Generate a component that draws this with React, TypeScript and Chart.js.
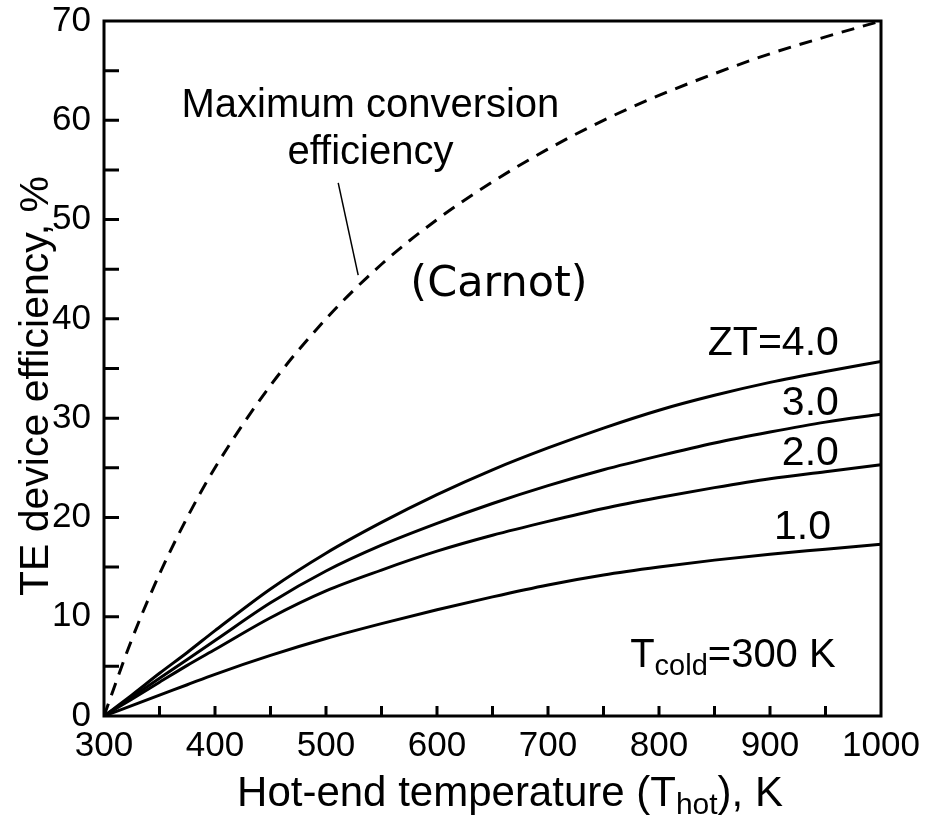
import { useEffect, useRef } from 'react';
import { Chart, registerables } from 'chart.js';

Chart.register(...registerables);

// Hot-end temperature samples (K)
const hotTemps = [300, 325, 350, 375, 400, 450, 500, 550, 600, 650, 700, 750, 800, 850, 900, 950, 1000];

// Carnot limit, %
const carnotEff = [0, 7.7, 14.3, 20.0, 25.0, 33.3, 40.0, 45.5, 50.0, 53.8, 57.1, 60.0, 62.5, 64.7, 66.7, 68.4, 70.0];

// Device efficiency for each figure of merit, %
const zt4Eff = [0, 2.1, 4.3, 6.4, 8.6, 12.8, 16.4, 19.5, 22.3, 24.8, 27.0, 29.0, 30.8, 32.3, 33.6, 34.7, 35.7];
const zt3Eff = [0, 1.9, 3.8, 5.7, 7.6, 11.4, 14.6, 17.2, 19.4, 21.4, 23.2, 24.8, 26.2, 27.5, 28.6, 29.6, 30.4];
const zt2Eff = [0, 1.7, 3.4, 5.1, 6.7, 9.9, 12.6, 14.7, 16.6, 18.2, 19.6, 20.9, 22.0, 23.0, 23.9, 24.6, 25.3];
const zt1Eff = [0, 1.05, 2.1, 3.15, 4.2, 6.1, 7.8, 9.3, 10.7, 12.0, 13.2, 14.2, 15.0, 15.7, 16.3, 16.8, 17.3];

const xTickValues = [300, 400, 500, 600, 700, 800, 900, 1000];
const yTickValues = [0, 10, 20, 30, 40, 50, 60, 70];

const SANS = '"Liberation Sans", Arial, sans-serif';
const TICK_FONT = 35;
const TEXT_FONT = 40;
const TITLE_FONT = 42;

const toPoints = (vals: number[]) => hotTemps.map((t, i) => ({ x: t, y: vals[i] }));

type Part = { text: string; sub?: boolean };

function drawParts(
  ctx: CanvasRenderingContext2D,
  parts: Part[],
  x: number,
  y: number,
  size: number,
  align: 'left' | 'center' | 'right',
  family = SANS
) {
  const subSize = Math.round(size * 0.72);
  let total = 0;
  const widths = parts.map((p) => {
    ctx.font = `${p.sub ? subSize : size}px ${family}`;
    const w = ctx.measureText(p.text).width;
    total += w;
    return w;
  });
  let cx = align === 'left' ? x : align === 'center' ? x - total / 2 : x - total;
  ctx.textAlign = 'left';
  ctx.textBaseline = 'alphabetic';
  parts.forEach((p, i) => {
    ctx.font = `${p.sub ? subSize : size}px ${family}`;
    ctx.fillText(p.text, cx, p.sub ? y + size * 0.2 : y);
    cx += widths[i];
  });
}

const framePlugin = {
  id: 'frameAndNotes',
  afterDatasetsDraw(chart: any) {
    const { ctx, chartArea } = chart;
    const xs = chart.scales.x;
    const ys = chart.scales.y;
    const { left, right, top, bottom } = chartArea;
    ctx.save();
    ctx.strokeStyle = '#000';
    ctx.fillStyle = '#000';
    ctx.lineWidth = 3;
    ctx.lineCap = 'butt';

    // inward ticks
    ctx.beginPath();
    for (let v = 5; v < 70; v += 5) {
      const py = ys.getPixelForValue(v);
      ctx.moveTo(left, py);
      ctx.lineTo(left + 15, py);
    }
    for (let t = 350; t < 1000; t += 50) {
      const px = xs.getPixelForValue(t);
      ctx.moveTo(px, bottom);
      ctx.lineTo(px, bottom - 10);
    }
    ctx.stroke();

    // frame
    ctx.strokeRect(left, top, right - left, bottom - top);

    // leader line to the Carnot curve
    ctx.lineWidth = 1.5;
    ctx.beginPath();
    ctx.moveTo(xs.getPixelForValue(511), ys.getPixelForValue(53.7));
    ctx.lineTo(xs.getPixelForValue(529), ys.getPixelForValue(44.4));
    ctx.stroke();

    // curve notes
    drawParts(ctx, [{ text: 'Maximum conversion' }], xs.getPixelForValue(540), ys.getPixelForValue(60.3), TEXT_FONT, 'center');
    drawParts(ctx, [{ text: 'efficiency' }], xs.getPixelForValue(540), ys.getPixelForValue(55.6), TEXT_FONT, 'center');
    drawParts(ctx, [{ text: '(Carnot)' }], xs.getPixelForValue(576), ys.getPixelForValue(42.3), 43, 'left', '"DejaVu Sans", Verdana, sans-serif');
    drawParts(ctx, [{ text: 'ZT=4.0' }], xs.getPixelForValue(962), ys.getPixelForValue(36.4), 41, 'right');
    drawParts(ctx, [{ text: '3.0' }], xs.getPixelForValue(962), ys.getPixelForValue(30.3), 41, 'right');
    drawParts(ctx, [{ text: '2.0' }], xs.getPixelForValue(962), ys.getPixelForValue(25.3), 41, 'right');
    drawParts(ctx, [{ text: '1.0' }], xs.getPixelForValue(955), ys.getPixelForValue(17.8), 41, 'right');
    drawParts(
      ctx,
      [{ text: 'T' }, { text: 'cold', sub: true }, { text: '=300 K' }],
      xs.getPixelForValue(774),
      ys.getPixelForValue(4.9),
      TEXT_FONT,
      'left'
    );

    // axis titles
    drawParts(
      ctx,
      [{ text: 'Hot-end temperature (T' }, { text: 'hot', sub: true }, { text: '), K' }],
      510,
      806,
      TITLE_FONT,
      'center'
    );
    ctx.translate(48, 386);
    ctx.rotate(-Math.PI / 2);
    drawParts(ctx, [{ text: 'TE device efficiency, %' }], 0, 0, 41, 'center');
    ctx.restore();
  },
};

const noAutoPadding = (scale: any) => {
  scale.paddingTop = 0;
  scale.paddingBottom = 0;
  scale.paddingLeft = 0;
  scale.paddingRight = 0;
};

export default function App() {
  const canvasRef = useRef<HTMLCanvasElement | null>(null);

  useEffect(() => {
    const canvas = canvasRef.current;
    if (!canvas) return;
    const line = (label: string, vals: number[], dash: number[] = []) => ({
      label,
      data: toPoints(vals),
      borderColor: '#000',
      borderWidth: 3,
      borderDash: dash,
      pointRadius: 0,
      fill: false,
      cubicInterpolationMode: 'monotone' as const,
    });
    const chart = new Chart(canvas, {
      type: 'line',
      data: {
        datasets: [
          line('Carnot', carnotEff, [13, 9]),
          line('ZT=4.0', zt4Eff),
          line('ZT=3.0', zt3Eff),
          line('ZT=2.0', zt2Eff),
          line('ZT=1.0', zt1Eff),
        ],
      },
      options: {
        animation: false,
        responsive: false,
        maintainAspectRatio: false,
        layout: { padding: { top: 21, right: 46, left: 0, bottom: 0 } },
        plugins: { legend: { display: false }, tooltip: { enabled: false } },
        scales: {
          x: {
            type: 'linear',
            min: 300,
            max: 1000,
            afterBuildTicks: (scale: any) => {
              scale.ticks = xTickValues.map((v) => ({ value: v }));
            },
            afterFit: (scale: any) => {
              scale.height = 99;
              noAutoPadding(scale);
            },
            ticks: {
              color: '#000',
              font: { family: SANS, size: TICK_FONT },
              padding: 9,
              maxRotation: 0,
              autoSkip: false,
              callback: (v: any) => String(v),
            },
            grid: { display: true, drawOnChartArea: false, drawTicks: false, color: 'rgba(0,0,0,0)' },
            border: { display: false },
          },
          y: {
            type: 'linear',
            min: 0,
            max: 70,
            afterBuildTicks: (scale: any) => {
              scale.ticks = yTickValues.map((v) => ({ value: v }));
            },
            afterFit: (scale: any) => {
              scale.width = 104;
              noAutoPadding(scale);
            },
            ticks: {
              color: '#000',
              font: { family: SANS, size: TICK_FONT },
              padding: 13,
              autoSkip: false,
              callback: (v: any) => String(v),
            },
            grid: { display: true, drawOnChartArea: false, drawTicks: false, color: 'rgba(0,0,0,0)' },
            border: { display: false },
          },
        },
      },
      plugins: [framePlugin],
    });
    return () => chart.destroy();
  }, []);

  return (
    <div style={{ position: 'absolute', left: 0, top: 0, width: 927, height: 815, background: '#fff' }}>
      <canvas ref={canvasRef} width={927} height={815} style={{ display: 'block' }} />
    </div>
  );
}
